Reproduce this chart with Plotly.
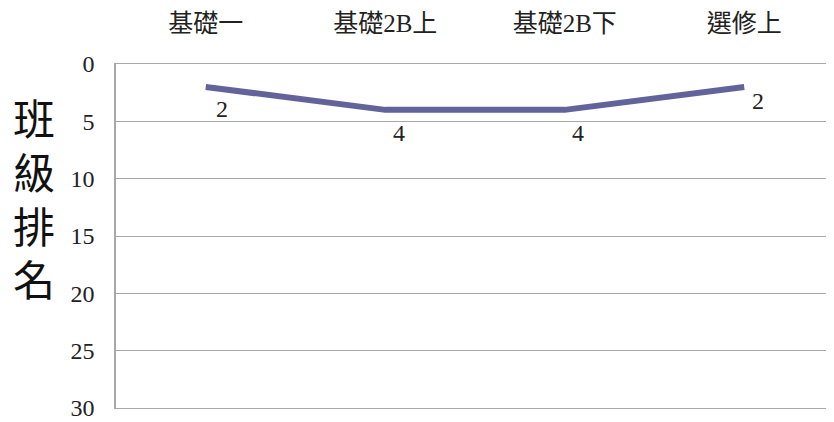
import plotly.graph_objects as go

categories = ["基礎一", "基礎2B上", "基礎2B下", "選修上"]
ranks = [2, 4, 4, 2]
y_ticks = [0, 5, 10, 15, 20, 25, 30]
y_title = "班級排名"

font_fam = "Liberation Serif, Noto Sans CJK TC, serif"
line_color = "#62639a"
grid_color = "#a8a8a8"

fig = go.Figure()
fig.add_trace(go.Scatter(
    x=categories, y=ranks, mode="lines",
    line=dict(color=line_color, width=6),
    hoverinfo="skip", showlegend=False,
))

label_shifts = [(16, -22), (14, -23), (13, -23), (14, -14)]
for c, v, (dx, dy) in zip(categories, ranks, label_shifts):
    fig.add_annotation(x=c, y=v, text=str(v), showarrow=False,
                       xshift=dx, yshift=dy,
                       font=dict(family=font_fam, size=24, color="#222222"))

title_ys = [0.849, 0.6928, 0.5362, 0.3797]
for ch, ty in zip(y_title, title_ys):
    fig.add_annotation(xref="paper", yref="paper", x=-0.1145, y=ty,
                       text=ch, showarrow=False, height=50, valign="middle",
                       xanchor="center", yanchor="middle",
                       font=dict(family="Noto Sans CJK TC", size=42, color="#111111"))

fig.update_layout(
    width=834, height=422,
    margin=dict(l=108, r=8, t=56, b=22),
    plot_bgcolor="white", paper_bgcolor="white",
    font=dict(family=font_fam, size=24, color="#222222"),
    xaxis=dict(type="category", side="top", range=[-0.5, 3.5],
               showgrid=False, zeroline=False,
               showline=True, mirror=True, linecolor=grid_color, linewidth=1,
               ticks="", ticklabelstandoff=21, automargin=False,
               tickfont=dict(family=font_fam, size=25, color="#222222")),
    yaxis=dict(range=[30, 0], tickvals=y_ticks, showgrid=True,
               gridcolor=grid_color, gridwidth=1, zeroline=False,
               showline=True, linecolor=grid_color, linewidth=1.5,
               ticks="", ticklabelstandoff=15, automargin=False,
               tickfont=dict(family=font_fam, size=24, color="#222222")),
)

fig.write_html("out.html")
